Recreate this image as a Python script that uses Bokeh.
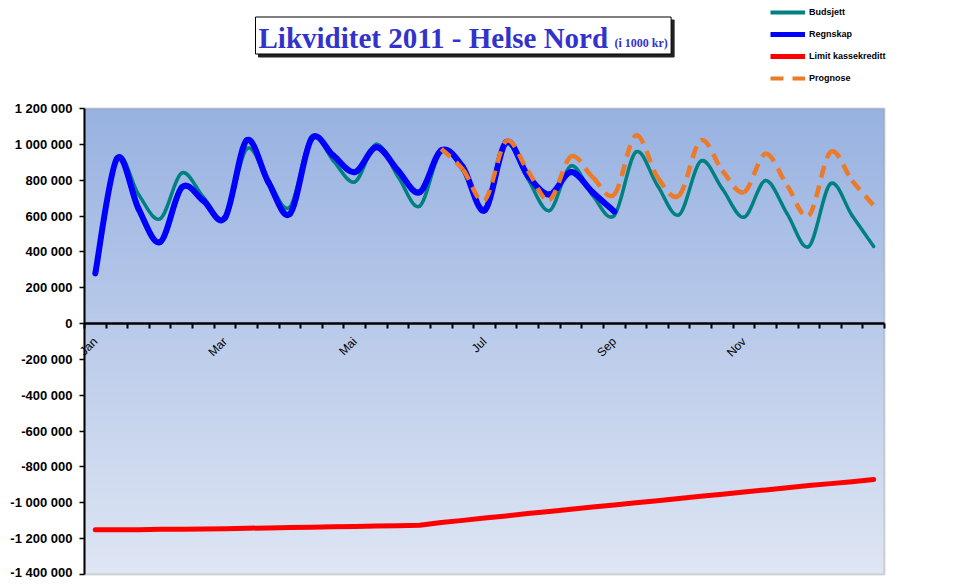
import math
import numpy as np
from bokeh.plotting import figure
from bokeh.models import FixedTicker, Range1d, Label, Legend, LegendItem, BoxAnnotation
from bokeh.embed import file_html
from bokeh.resources import INLINE

# ---------------- data ----------------
categories = list(range(37))
month_ticks = [0, 6, 12, 18, 24, 30]
month_labels = ["Jan", "Mar", "Mai", "Jul", "Sep", "Nov"]

budsjett = [280000, 920000, 720000, 585000, 840000, 705000, 590000, 975000, 800000,
            650000, 1045000, 910000, 790000, 1000000, 820000, 655000, 965000, 855000,
            645000, 1000000, 808000, 630000, 880000, 715000, 603000, 957000, 770000,
            607000, 906000, 752000, 593000, 798000, 612000, 430000, 780000, 603000, 430000]

regnskap_x = list(range(0, 25))
regnskap = [280000, 920000, 640000, 455000, 760000, 685000, 590000, 1022000, 790000,
            612000, 1031000, 938000, 845000, 984000, 854000, 733000, 966000, 873000,
            631000, 1012000, 826000, 720000, 845000, 733000, 625000]

prognose_x = list(range(16, 37))
prognose = [975000, 860000, 687000, 1018000, 854000, 690000, 932000, 817000, 720000,
            1050000, 817000, 715000, 1022000, 854000, 733000, 947000, 770000, 603000,
            957000, 798000, 659000]

limit = [-1150000, -1150000, -1150000, -1148000, -1148000, -1146000, -1145000, -1142000,
         -1140000, -1138000, -1136000, -1134000, -1132000, -1130000, -1128000, -1125000,
         -1110000, -1098000, -1085000, -1073000, -1060000, -1048000, -1036000, -1024000,
         -1012000, -1000000, -988000, -976000, -964000, -952000, -940000, -928000,
         -916000, -904000, -893000, -882000, -870000]

y_ticks = [-1400000, -1200000, -1000000, -800000, -600000, -400000, -200000, 0,
           200000, 400000, 600000, 800000, 1000000, 1200000]
y_labels = ["-1 400 000", "-1 200 000", "-1 000 000", "-800 000", "-600 000", "-400 000",
            "-200 000", "0", "200 000", "400 000", "600 000", "800 000", "1 000 000",
            "1 200 000"]

TEAL = "#008080"
BLUE = "#0000FF"
RED = "#FF0000"
ORANGE = "#EC7A26"
TITLE_BLUE = "#3333CC"

# ---------------- layout (pixels) ----------------
W, H = 940, 579
PL, PR, PT, PB = 84, 884, 108, 574   # plot area edges on the canvas


def smooth_segments(xs, ys):
    """Bezier control points (Catmull-Rom style) so each series is drawn smooth."""
    n = len(xs)
    d = dict(x0=[], y0=[], x1=[], y1=[], cx0=[], cy0=[], cx1=[], cy1=[])
    for i in range(n - 1):
        a = i - 1 if i > 0 else i
        b = i + 2 if i + 2 < n else i + 1
        d["x0"].append(xs[i]); d["y0"].append(ys[i])
        d["x1"].append(xs[i + 1]); d["y1"].append(ys[i + 1])
        d["cx0"].append(xs[i] + (xs[i + 1] - xs[a]) / 6.0)
        d["cy0"].append(ys[i] + (ys[i + 1] - ys[a]) / 6.0)
        d["cx1"].append(xs[i + 1] - (xs[b] - xs[i]) / 6.0)
        d["cy1"].append(ys[i + 1] - (ys[b] - ys[i]) / 6.0)
    return d


x_lo, x_hi = -0.5, len(categories) - 0.5
y_lo, y_hi = y_ticks[0], y_ticks[-1]
ux = (x_hi - x_lo) / (PR - PL)
uy = (y_hi - y_lo) / (PB - PT)
x_range = Range1d(x_lo - PL * ux, x_hi + (W - PR) * ux)
y_range = Range1d(y_lo - (H - PB) * uy, y_hi + PT * uy)

p = figure(width=W, height=H, output_backend="svg", toolbar_location=None,
           x_range=x_range, y_range=y_range, min_border=0,
           min_border_left=0, min_border_right=0, min_border_top=0,
           min_border_bottom=0)
p.grid.visible = False
p.border_fill_color = "white"
p.background_fill_color = "white"
p.outline_line_color = None

# gradient background of the plot area
n = 256
t = np.linspace(0.0, 1.0, n)
top_c = np.array([152, 178, 225])
bot_c = np.array([223, 230, 244])
cols = bot_c[None, :] + (top_c - bot_c)[None, :] * t[:, None]
img = np.zeros((n, 1), dtype=np.uint32)
view = img.view(dtype=np.uint8).reshape((n, 1, 4))
view[:, 0, 0] = cols[:, 0]
view[:, 0, 1] = cols[:, 1]
view[:, 0, 2] = cols[:, 2]
view[:, 0, 3] = 255
bg = p.image_rgba(image=[img], x=x_lo, y=y_lo, dw=x_hi - x_lo, dh=y_hi - y_lo)
bg.level = "image"

frame_box = BoxAnnotation(left=x_lo, right=x_hi, bottom=y_lo, top=y_hi,
                          fill_alpha=0, fill_color=None, line_color="#808080",
                          line_width=2, level="underlay")
p.add_layout(frame_box)

# series
p.bezier(**smooth_segments(categories, budsjett), line_color=TEAL, line_width=3.5,
         line_cap="round")
p.bezier(**smooth_segments(regnskap_x, regnskap), line_color=BLUE, line_width=6,
         line_cap="round")
p.bezier(**smooth_segments(prognose_x, prognose), line_color=ORANGE, line_width=4.5,
         line_dash="12 8")
r_limit = p.line(categories, limit, line_color=RED, line_width=5, line_cap="round",
                 line_join="round")

# legend sample lines (no visible data)
nan = [float("nan")]
lb = p.line(nan, nan, line_color=TEAL, line_width=4)
lr = p.line(nan, nan, line_color=BLUE, line_width=5)
ll = p.line(nan, nan, line_color=RED, line_width=5)
lp = p.line(nan, nan, line_color=ORANGE, line_width=4, line_dash="13 9")
legend = Legend(items=[LegendItem(label="Budsjett", renderers=[lb]),
                       LegendItem(label="Regnskap", renderers=[lr]),
                       LegendItem(label="Limit kassekreditt", renderers=[ll]),
                       LegendItem(label="Prognose", renderers=[lp])],
                location=(770, H - 84), orientation="vertical",
                glyph_width=35, glyph_height=12, label_height=12, label_standoff=4,
                spacing=10, padding=0, margin=0, border_line_color=None,
                background_fill_alpha=0, label_text_font="Liberation Sans",
                label_text_font_size="9px", label_text_font_style="bold",
                label_text_color="black")
p.add_layout(legend)

# axes
xax = p.xaxis[0]
xax.fixed_location = 0
xax.bounds = (x_lo, x_hi)
xax.ticker = FixedTicker(ticks=month_ticks,
                         minor_ticks=[c - 0.5 for c in categories] + [categories[-1] + 0.5])
xax.major_label_overrides = {k: v for k, v in zip(month_ticks, month_labels)}
xax.major_label_orientation = math.pi / 4
xax.major_tick_in = 0
xax.major_tick_out = 0
xax.minor_tick_in = 0
xax.minor_tick_out = 5
xax.minor_tick_line_width = 2
xax.minor_tick_line_color = "black"
xax.axis_line_width = 2.5
xax.axis_line_color = "black"
xax.major_label_standoff = 11
xax.major_label_text_font = "Liberation Sans"
xax.major_label_text_font_size = "12px"
xax.major_label_text_color = "black"

yax = p.yaxis[0]
yax.fixed_location = x_lo
yax.bounds = (y_lo, y_hi)
yax.ticker = FixedTicker(ticks=y_ticks)
yax.major_label_overrides = {k: v for k, v in zip(y_ticks, y_labels)}
yax.major_tick_in = 0
yax.major_tick_out = 5
yax.major_tick_line_width = 1.5
yax.major_tick_line_color = "black"
yax.axis_line_width = 2
yax.axis_line_color = "black"
yax.major_label_standoff = 7
yax.major_label_text_font = "Liberation Sans"
yax.major_label_text_font_size = "13px"
yax.major_label_text_font_style = "bold"
yax.major_label_text_color = "black"

# title box with shadow
title_text = "Likviditet 2011 - Helse Nord"
pad = dict(left=3, right=63, top=5, bottom=0)
box_y = H - 35
shadow = Label(x=258, y=box_y - 3, x_units="screen", y_units="screen", text=title_text,
               text_font="Liberation Serif", text_font_size="29px",
               text_font_style="bold", text_color="#222222",
               text_baseline="alphabetic", background_fill_color="#222222",
               border_line_color="#222222", padding=pad)
main = Label(x=255, y=box_y, x_units="screen", y_units="screen", text=title_text,
             text_font="Liberation Serif", text_font_size="29px",
             text_font_style="bold", text_color=TITLE_BLUE,
             text_baseline="alphabetic", background_fill_color="white",
             border_line_color="black", border_line_width=1, padding=pad)
sub = Label(x=614, y=H - 42, x_units="screen", y_units="screen", text="(i 1000 kr)",
            text_font="Liberation Serif", text_font_size="12px",
            text_font_style="bold", text_color=TITLE_BLUE,
            text_baseline="alphabetic")
p.add_layout(shadow)
p.add_layout(main)
p.add_layout(sub)

open("out.html", "w").write(file_html(p, INLINE))
